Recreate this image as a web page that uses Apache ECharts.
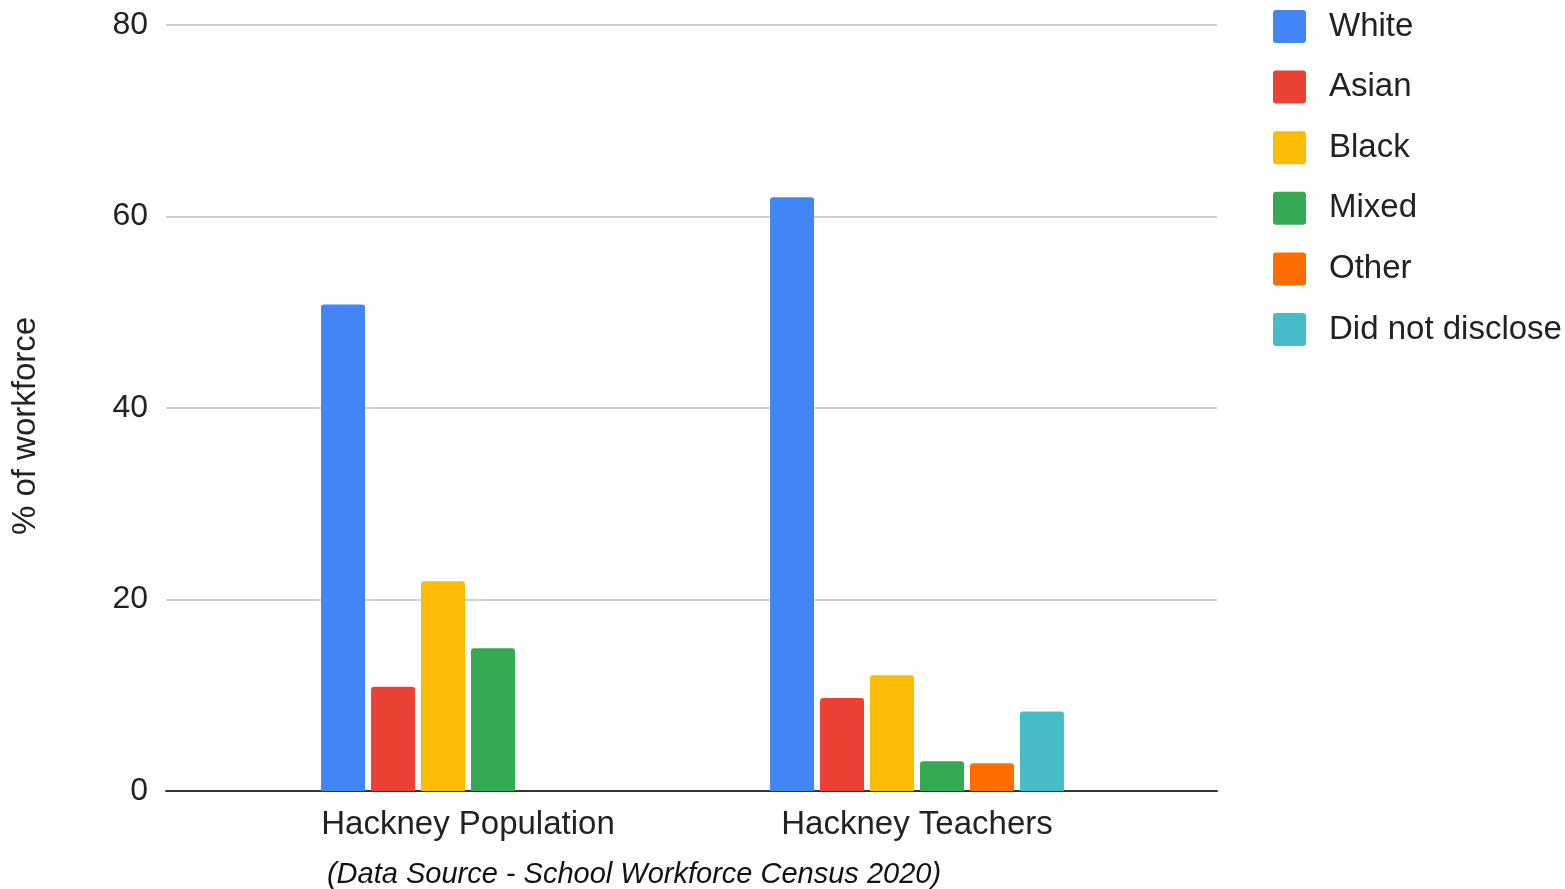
<!DOCTYPE html>
<html>
<head>
<meta charset="utf-8">
<script src="https://cdn.jsdelivr.net/npm/echarts@6/dist/echarts.min.js"></script>
<style>
html,body{margin:0;padding:0;background:#fff;}
#chart{width:1565px;height:889px;}
</style>
</head>
<body>
<div id="chart"></div>
<script>
var categories = ['Hackney Population', 'Hackney Teachers'];
var seriesNames = ['White', 'Asian', 'Black', 'Mixed', 'Other', 'Did not disclose'];
var white = [50.8, 62.0];
var asian = [10.9, 9.7];
var black = [21.9, 12.1];
var mixed = [14.9, 3.1];
var other = [null, 2.9];
var notDisclosed = [null, 8.3];
var yTicks = [0, 20, 40, 60, 80];
var colors = ['#4285F4', '#EA4335', '#FBBC04', '#34A853', '#FF6D01', '#46BDC6'];

var values = [white, asian, black, mixed, other, notDisclosed];
var FONT = '"Liberation Sans", Arial, sans-serif';

var chart = echarts.init(document.getElementById('chart'));
var series = seriesNames.map(function (name, i) {
  return {
    name: name,
    type: 'bar',
    xAxisIndex: 1,
    yAxisIndex: 1,
    data: values[i],
    barWidth: 44,
    barGap: '13.6%',
    itemStyle: { color: colors[i], borderRadius: [3, 3, 0, 0] }
  };
});

chart.setOption({
  animation: false,
  backgroundColor: '#ffffff',
  color: colors,
  title: {
    text: '(Data Source - School Workforce Census 2020)',
    left: 629,
    textAlign: 'center',
    top: 855,
    textStyle: { fontFamily: FONT, fontSize: 29, fontStyle: 'italic', fontWeight: 'normal', color: '#111' }
  },
  legend: {
    orient: 'vertical',
    left: 1273,
    top: 10,
    padding: 0,
    itemWidth: 33,
    itemHeight: 33,
    itemGap: 27.6,
    icon: 'path://M3,0 L30,0 Q33,0 33,3 L33,30 Q33,33 30,33 L3,33 Q0,33 0,30 L0,3 Q0,0 3,0 Z',
    data: seriesNames,
    textStyle: { fontFamily: FONT, fontSize: 33, color: '#222', padding: [0, 0, 0, 18] }
  },
  grid: [
    { left: 166, right: 348, top: 25, bottom: 98 },
    { left: 243.5, right: 423.5, top: 25, bottom: 98 }
  ],
  xAxis: [
    {
      gridIndex: 0, type: 'value', min: 0, max: 1,
      axisLine: { show: true, onZero: false, lineStyle: { color: '#333', width: 2 } },
      axisTick: { show: false }, axisLabel: { show: false }, splitLine: { show: false }
    },
    {
      gridIndex: 1, type: 'category', data: categories,
      axisLine: { show: false }, axisTick: { show: false },
      axisLabel: { fontFamily: FONT, fontSize: 33, color: '#222', margin: 17 }
    }
  ],
  yAxis: [
    {
      gridIndex: 0, type: 'value', min: yTicks[0], max: yTicks[yTicks.length - 1], interval: 20,
      name: '% of workforce', nameLocation: 'middle', nameGap: 124,
      nameTextStyle: { fontFamily: FONT, fontSize: 33, color: '#222', padding: [0, 36, 0, 0] },
      axisLine: { show: false }, axisTick: { show: false },
      axisLabel: { fontFamily: FONT, fontSize: 32, color: '#222', margin: 18 },
      splitLine: { lineStyle: { color: '#d0d0d0', width: 2 } }
    },
    {
      gridIndex: 1, type: 'value', min: yTicks[0], max: yTicks[yTicks.length - 1], interval: 20,
      show: false, splitLine: { show: false }
    }
  ],
  series: series
});
</script>
</body>
</html>
